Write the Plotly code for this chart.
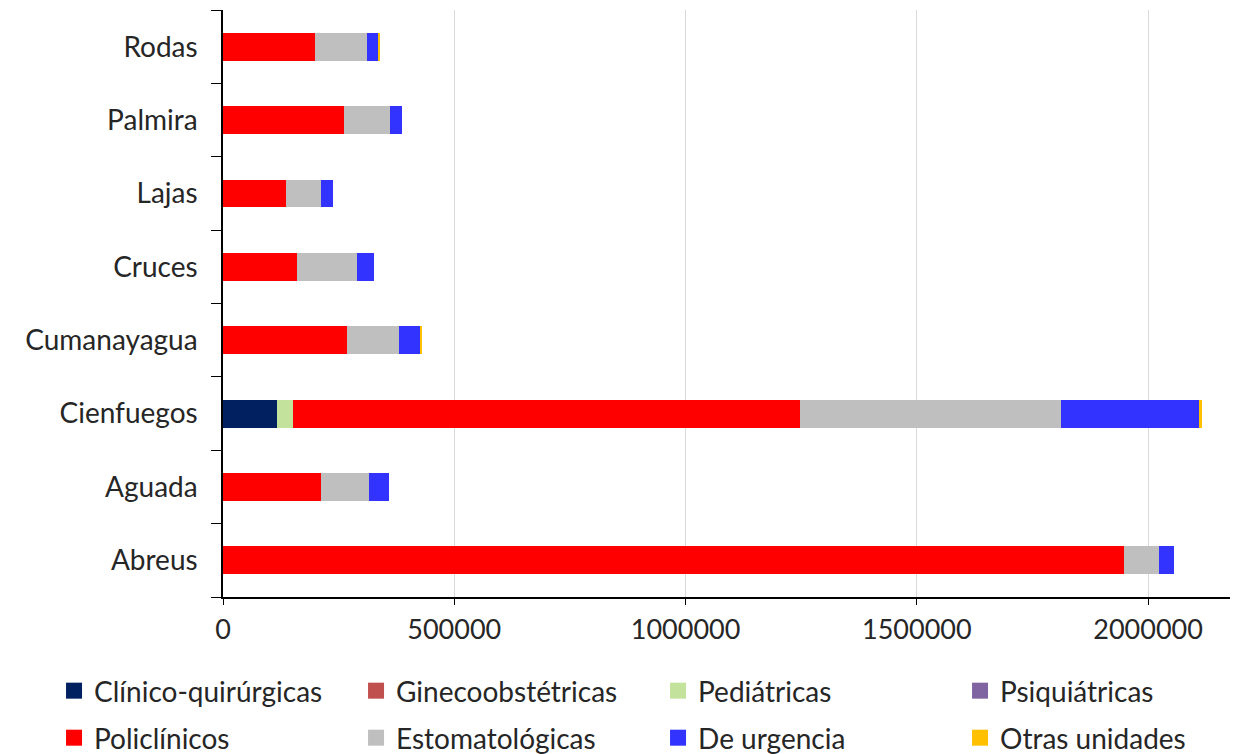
import plotly.graph_objects as go

categories = ["Abreus", "Aguada", "Cienfuegos", "Cumanayagua", "Cruces", "Lajas", "Palmira", "Rodas"]

clinico = [0, 0, 117000, 0, 0, 0, 0, 0]
gineco = [0, 0, 0, 0, 0, 0, 0, 0]
pediatricas = [0, 0, 34000, 0, 0, 0, 0, 0]
psiquiatricas = [0, 0, 0, 0, 0, 0, 0, 0]
policlinicos = [1947000, 212000, 1097000, 268000, 160000, 137000, 262000, 199000]
estomatologicas = [77000, 103000, 564000, 112000, 129000, 75000, 100000, 112000]
urgencia = [31000, 43000, 300000, 47000, 37000, 25000, 25000, 25000]
otras = [0, 0, 4000, 3000, 0, 0, 0, 2000]

series = [
    ("Clínico-quirúrgicas", clinico, "#002060"),
    ("Ginecoobstétricas", gineco, "#C0504D"),
    ("Pediátricas", pediatricas, "#C3E29B"),
    ("Psiquiátricas", psiquiatricas, "#8064A2"),
    ("Policlínicos", policlinicos, "#FF0000"),
    ("Estomatológicas", estomatologicas, "#BFBFBF"),
    ("De urgencia", urgencia, "#3333FF"),
    ("Otras unidades", otras, "#FFC000"),
]

fig = go.Figure()
for name, vals, color in series:
    fig.add_trace(go.Bar(
        y=categories, x=vals, name=name, orientation="h",
        marker=dict(color=color, line=dict(width=0)),
        showlegend=False,
    ))
# legend entries (first four in row 1, last four in row 2)
for i, (name, vals, color) in enumerate(series):
    fig.add_trace(go.Scatter(
        x=[None], y=[None], mode="markers", name=name,
        marker=dict(symbol="square", size=16, color=color),
        legend="legend" if i < 4 else "legend2", showlegend=True,
        hoverinfo="skip",
    ))

font_family = "Lato, 'Open Sans', sans-serif"
legend_font = dict(size=28, color="#262626", family=font_family)
legend_common = dict(
    orientation="h", xanchor="left", yanchor="top", font=legend_font,
    entrywidth=257, entrywidthmode="pixels", traceorder="normal",
    bgcolor="rgba(0,0,0,0)", itemclick=False, itemdoubleclick=False,
    x=-0.1668,
)

# page body adds an 8px offset, so the figure is 8px smaller than the window
fig.update_layout(
    barmode="stack",
    bargap=0.62,
    width=1230, height=746,
    margin=dict(l=215, r=2, t=2, b=157, autoexpand=False),
    paper_bgcolor="white", plot_bgcolor="white",
    font=dict(family=font_family, size=27, color="#262626"),
    xaxis=dict(
        range=[0, 2190000], tickvals=[0, 500000, 1000000, 1500000, 2000000],
        ticktext=["0", "500000", "1000000", "1500000", "2000000"],
        showgrid=True, gridcolor="#D9D9D9", gridwidth=1,
        showline=True, linecolor="black", linewidth=1.5,
        ticks="outside", ticklen=6, tickcolor="black", ticklabelstandoff=2,
        zeroline=False, tickfont=dict(size=27), automargin=False,
    ),
    yaxis=dict(
        categoryorder="array", categoryarray=categories,
        showline=True, linecolor="black", linewidth=1.5,
        ticks="outside", ticklen=10, tickcolor="black", tickson="boundaries",
        showgrid=False, tickfont=dict(size=28), ticklabelstandoff=18,
        automargin=False,
    ),
    showlegend=True,
    legend=dict(y=-0.1175, **legend_common),
    legend2=dict(y=-0.1976, **legend_common),
)

fig.write_html("out.html")
